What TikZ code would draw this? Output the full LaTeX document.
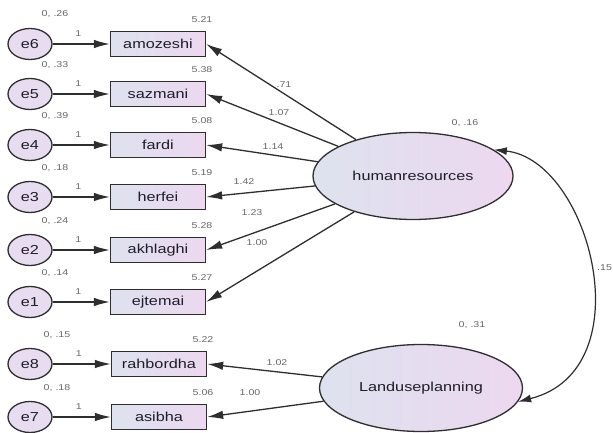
\documentclass[tikz,border=0pt]{standalone}
\usepackage{fontspec}
\setmainfont{Liberation Sans}[FakeStretch=1.25]
\usetikzlibrary{positioning,shapes,arrows.meta}

\definecolor{semblue}{HTML}{DDE2EE}
\definecolor{sempink}{HTML}{EDD8F0}
\definecolor{errfill}{HTML}{E8DCF0}
\definecolor{semline}{HTML}{2E2E2E}
\definecolor{semtext}{HTML}{1E1E28}

\begin{document}
\begin{tikzpicture}[x=1pt, y=-1pt,
        err/.style={draw=semline, ellipse, line width=1.3pt, fill=errfill, minimum width=44pt, minimum height=31pt, inner sep=0pt, text=semtext, font=\fontsize{13}{14}\selectfont},
        obs/.style={draw=semline, rectangle, line width=1.3pt, minimum width=95pt, minimum height=25pt, inner sep=0pt, left color=semblue, right color=sempink, text=semtext, font=\fontsize{13}{14}\selectfont},
        lat/.style={draw=semline, ellipse, line width=1.3pt, minimum width=200pt, minimum height=87pt, inner sep=0pt, left color=semblue, right color=sempink, text=semtext, font=\fontsize{13}{14}\selectfont},
        est/.style={inner sep=0pt, text=black!60, font=\fontsize{8.5}{9}\selectfont},
        arrow/.style={-{Latex[length=16pt,width=8.5pt]}, line width=1.3pt, draw=semline},
        both/.style={{Latex[length=13pt,width=8pt]}-{Latex[length=13pt,width=8pt]}, line width=1.2pt, draw=semline}
    ]
        \useasboundingbox (0,0) rectangle (613,433);

        % latent variables
        \node[lat] (hr) at (413,176) {humanresources};
        \node[lat, minimum width=203pt] (lup) at (421,388) {Landuseplanning};
        \node[est] (hrvar) at (465,123) {0, .16};
        \node[est] (lupvar) at (472,325) {0, .31};

        % observed variables
        \node[obs] (amozeshi) at (158,44) {amozeshi};
        \node[obs] (sazmani) at (158,94) {sazmani};
        \node[obs] (fardi) at (158,145) {fardi};
        \node[obs] (herfei) at (158,197) {herfei};
        \node[obs] (akhlaghi) at (158,250) {akhlaghi};
        \node[obs] (ejtemai) at (158,302) {ejtemai};
        \node[obs] (rahbordha) at (159,364) {rahbordha};
        \node[obs] (asibha) at (159,417) {asibha};

        % error terms
        \node[err] (e6) at (30,44) {e6};
        \node[err] (e5) at (30,94) {e5};
        \node[err] (e4) at (30,145) {e4};
        \node[err] (e3) at (30,197) {e3};
        \node[err] (e2) at (30,250) {e2};
        \node[err] (e1) at (30,302) {e1};
        \node[err] (e8) at (30,364) {e8};
        \node[err] (e7) at (30,417) {e7};

        % variances of errors
        \node[est] (v6) at (55,14) {0, .26};
        \node[est] (v5) at (55,65) {0, .33};
        \node[est] (v4) at (55,116) {0, .39};
        \node[est] (v3) at (55,168) {0, .18};
        \node[est] (v2) at (55,221) {0, .24};
        \node[est] (v1) at (55,273) {0, .14};
        \node[est] (v8) at (57,335) {0, .15};
        \node[est] (v7) at (57,388) {0, .18};

        % intercepts
        \node[est] (i6) at (202,20) {5.21};
        \node[est] (i5) at (202,70) {5.38};
        \node[est] (i4) at (202,121) {5.08};
        \node[est] (i3) at (202,173) {5.19};
        \node[est] (i2) at (202,226) {5.28};
        \node[est] (i1) at (202,278) {5.27};
        \node[est] (i8) at (203,340) {5.22};
        \node[est] (i7) at (203,393) {5.06};

        % error paths
        \draw[arrow] (e6) -- node[est, pos=0.45, yshift=10pt] {1} (amozeshi);
        \draw[arrow] (e5) -- node[est, pos=0.45, yshift=10pt] {1} (sazmani);
        \draw[arrow] (e4) -- node[est, pos=0.45, yshift=10pt] {1} (fardi);
        \draw[arrow] (e3) -- node[est, pos=0.45, yshift=10pt] {1} (herfei);
        \draw[arrow] (e2) -- node[est, pos=0.45, yshift=10pt] {1} (akhlaghi);
        \draw[arrow] (e1) -- node[est, pos=0.45, yshift=10pt] {1} (ejtemai);
        \draw[arrow] (e8) -- node[est, pos=0.45, yshift=10pt] {1} (rahbordha);
        \draw[arrow] (e7) -- node[est, pos=0.45, yshift=10pt] {1} (asibha);

        % loadings
        \draw[arrow] (hr) -- (amozeshi.east);
        \draw[arrow] (hr) -- (sazmani.east);
        \draw[arrow] (hr) -- (fardi.east);
        \draw[arrow] (hr) -- (herfei.east);
        \draw[arrow] (hr) -- (akhlaghi.east);
        \draw[arrow] (hr) -- (ejtemai.east);
        \draw[arrow] (lup) -- (rahbordha.east);
        \draw[arrow] (lup) -- (asibha.east);
        \node[est] (l6) at (284,85) {.71};
        \node[est] (l5) at (279,113) {1.07};
        \node[est] (l4) at (273,147) {1.14};
        \node[est] (l3) at (244,182) {1.42};
        \node[est] (l2) at (252,213) {1.23};
        \node[est] (l1) at (257,243) {1.00};
        \node[est] (l8) at (277,363) {1.02};
        \node[est] (l7) at (250,393) {1.00};

        % covariance
        \draw[both] (hr.18) .. controls (590,160) and (645,370) .. (lup.-8);
        \node[est, anchor=west] (cov) at (597,268) {.15};
    \end{tikzpicture}
\end{document}
